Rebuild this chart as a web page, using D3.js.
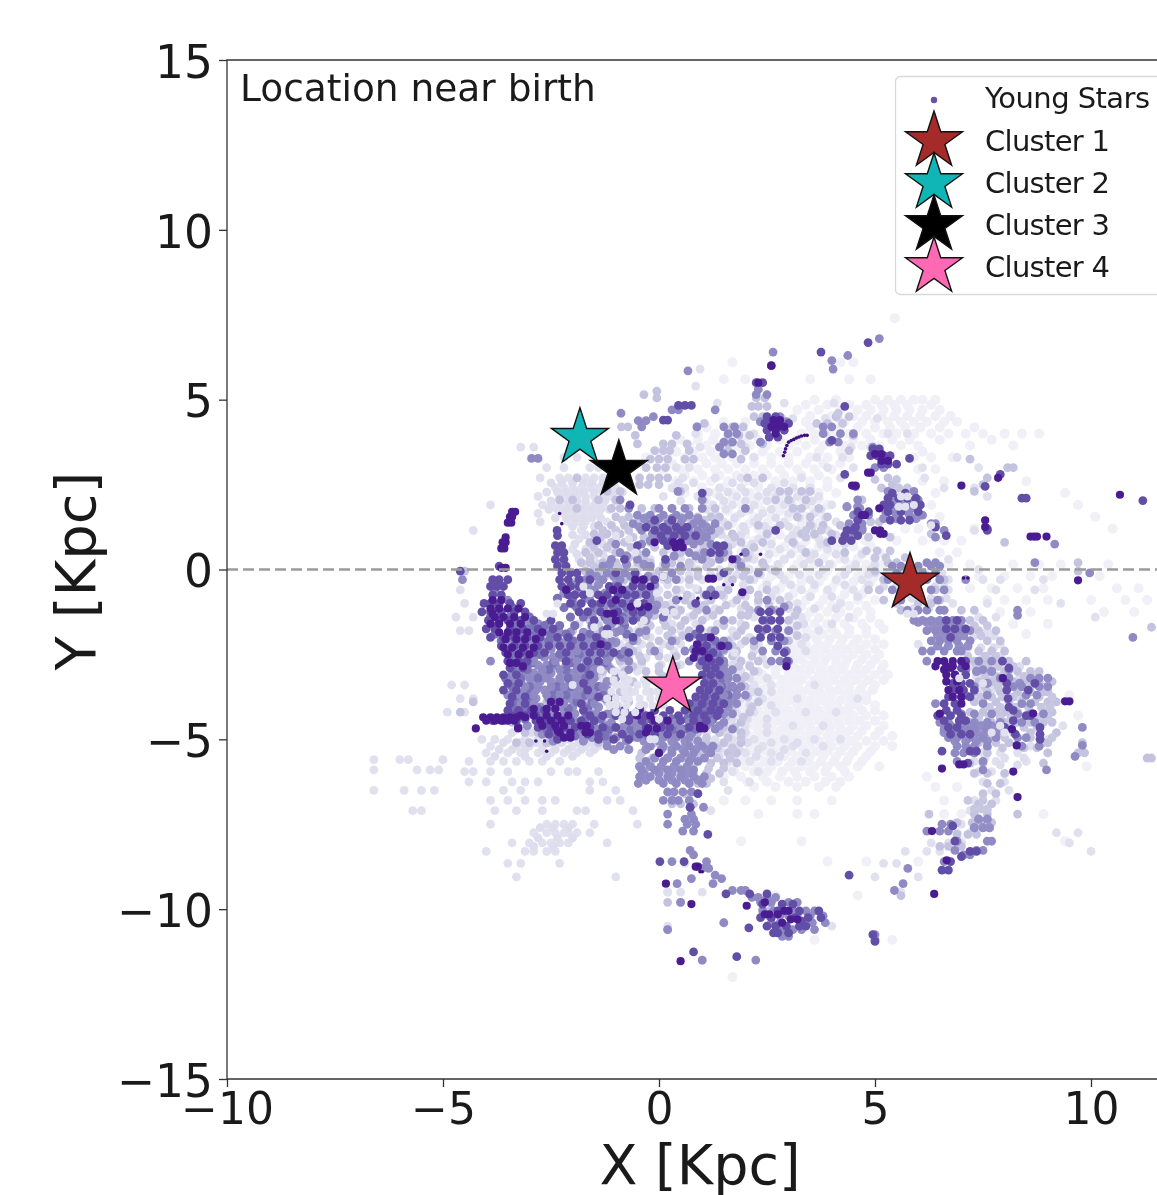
<!DOCTYPE html>
<html>
<head>
<meta charset="utf-8">
<script src="https://cdn.jsdelivr.net/npm/d3@7"></script>
<style>
html, body { margin: 0; padding: 0; background: #fff; }
svg { display: block; filter: blur(0.6px); }
text { font-family: "DejaVu Sans", sans-serif; fill: #1a1a1a; }
</style>
</head>
<body>
<div id="chart"></div>
<script>
// each row is [y, x, x, x ...], in Kpc
var faintStars = [
  [7.4,5.46],[6.1,4.5,4.2,1.7],[5.6,3.5,4.4,4.9,1.5,2.0],
  [5.0,3.6,4.1,5.0,5.3,5.6,5.9,6.1,6.4],
  [4.7,3.2,3.7,4.2,4.6,4.9,5.2,5.5,5.8,6.1,6.5],
  [4.35,1.5,2.0,3.4,3.9,4.3,4.7,5.0,5.3,5.6,5.9,6.2,6.6,6.9],
  [4.0,0.9,1.3,1.7,2.0,3.3,3.6,4.0,4.4,4.8,5.2,5.5,5.9,6.3,6.7,7.1,7.5,8.0,8.4,8.8],
  [3.65,0.3,0.7,1.1,1.4,1.8,2.1,2.5,3.0,3.4,3.8,4.3,4.7,5.1,5.6,6.0,7.2,8.2],
  [3.3,-0.3,0.2,0.6,1.0,1.3,1.7,2.2,2.6,3.0,3.5,3.9,4.4,5.9,6.3,6.8],
  [2.95,0.1,0.5,0.9,1.3,1.6,2.0,2.4,2.8,3.2,3.6,4.0,6.0,6.4],
  [2.6,0.4,0.8,1.2,1.6,2.0,2.3,2.7,3.1,3.5,3.9,6.1,6.6,8.5],
  [2.25,0.6,1.3,1.7,2.1,2.5,2.9,3.3,3.7,4.1,6.4,9.4],
  [1.9,1.5,1.9,2.3,2.7,3.1,3.5,3.9,6.3,9.7],
  [1.55,1.8,2.2,2.6,3.0,3.4,3.8,6.5,10.1],
  [1.2,1.9,2.3,2.7,3.1,3.5,5.7,6.0,7.3,10.5],
  [0.85,1.8,2.2,2.6,3.0,3.4,3.8,4.3,4.8,5.5,6.1,6.6,7.0],
  [0.5,1.9,2.3,2.7,3.1,3.5,3.9,4.3,4.7,5.1,6.5,6.9],
  [0.15,2.0,2.4,2.8,3.2,3.6,4.0,4.4,4.8,5.2,6.7,7.2,8.2,8.8,9.3,10.4],
  [-0.2,2.2,2.6,3.0,3.4,3.8,4.2,4.6,5.0,7.4,8.0,8.6,9.1,10.2],
  [-0.55,2.4,2.8,3.2,3.6,4.0,4.4,4.8,7.2,7.7,8.3,8.9,10.6,11.1],
  [-0.9,2.6,3.0,3.4,3.8,4.2,4.6,5.0,7.6,8.0,8.5,9.0,10.0,10.8,11.3],
  [-1.25,2.8,3.2,3.5,3.9,4.2,4.6,4.9,7.9,8.6,10.3,11.0],
  [-1.6,1.5,3.0,3.3,3.6,3.9,4.3,4.7,5.1,8.2,9.0],
  [-1.9,2.9,3.2,3.5,3.8,4.1,4.4,4.8,8.5],
  [-2.2,2.9,3.2,3.4,3.7,3.9,4.2,4.5,4.8,5.2],
  [-2.5,3.0,3.2,3.5,3.7,4.0,4.2,4.5,4.8,5.1],
  [-2.8,2.9,3.1,3.4,3.6,3.8,4.1,4.3,4.6,4.9,5.2],
  [-3.1,2.4,2.7,3.0,3.2,3.4,3.7,3.9,4.1,4.4,4.7,5.0,5.3],
  [-3.4,2.2,2.5,2.8,3.0,3.2,3.5,3.7,3.9,4.2,4.4,4.7,5.0],
  [-3.7,2.2,2.4,2.7,2.9,3.1,3.3,3.6,3.8,4.0,4.3,4.5,4.8,9.5],
  [-4.0,1.9,2.2,2.5,2.7,2.9,3.2,3.4,3.6,3.9,4.1,4.4,4.6,5.0],
  [-4.3,1.9,2.2,2.4,2.7,2.9,3.1,3.3,3.6,3.8,4.0,4.3,4.5,4.8,5.2,9.7],
  [-4.6,1.6,1.9,2.2,2.4,2.6,2.9,3.1,3.3,3.5,3.8,4.0,4.2,4.5,4.8,5.2],
  [-4.9,1.6,1.9,2.1,2.4,2.7,2.9,3.1,3.4,3.6,3.9,4.1,4.3,4.6,5.0,5.4],
  [-5.2,1.5,1.8,2.1,2.4,2.7,3.0,3.3,3.5,3.8,4.0,4.3,4.6,5.0,5.4],
  [-5.5,1.3,1.7,2.0,2.3,2.6,2.9,3.2,3.5,3.8,4.1,4.4,4.8],
  [-5.8,1.6,2.0,2.3,2.6,3.0,3.3,3.6,3.9,4.2,4.6,5.1,9.9],
  [-6.1,1.5,1.9,2.4,2.8,3.2,3.6,4.0,4.4,6.2],
  [-6.4,2.2,2.7,3.2,3.7,4.1,6.4,6.9],
  [-6.8,1.5,2.0,2.6,3.2,4.0,6.6],
  [-7.2,2.3,3.2,3.6,6.6,7.0,8.9],
  [-8.0,1.9,3.3,7.0,9.4],[-8.6,3.9,4.8,6.0],[-9.6,2.7,4.6],[-10.9,3.6,5.4],[-12.0,1.7]
];
var faintFill = [
  [4.85,3.4,3.9,4.4,4.8,5.15,5.45,5.75,6.3],
  [4.52,3.5,4.0,4.5,4.8,5.15,5.45,5.75,6.05,6.4,6.75],
  [4.18,1.1,1.8,3.5,3.8,4.2,4.6,5.0,5.35,5.7,6.05,6.5,7.3],
  [3.82,0.5,0.9,1.25,1.6,1.95,2.3,2.8,3.2,3.6,4.1,4.5,4.9,5.4,5.8,6.5,7.7],
  [3.47,0.0,0.4,0.8,1.2,1.55,1.95,2.4,2.8,3.2,3.7,4.2,6.1],
  [3.12,0.3,0.7,1.1,1.45,1.8,2.2,2.6,3.0,3.4,3.8,4.2],
  [2.77,0.6,1.0,1.4,1.8,2.2,2.5,2.9,3.3,3.7],
  [2.42,1.0,1.5,1.9,2.3,2.7,3.1,3.5,3.9],
  [2.07,1.1,1.7,2.1,2.5,2.9,3.3,3.7],
  [1.72,1.6,2.0,2.4,2.8,3.2,3.6],
  [1.37,1.7,2.1,2.5,2.9,3.3,3.7],
  [1.02,2.0,2.4,2.8,3.2,3.6,4.0,4.6],
  [0.67,2.1,2.5,2.9,3.3,3.7,4.1,4.5,4.9],
  [0.32,2.1,2.5,2.9,3.3,3.8,4.2,4.6,5.0],
  [-0.02,2.3,2.7,3.1,3.5,3.9,4.3,4.7,5.1],
  [-0.37,2.5,2.9,3.3,3.7,4.1,4.5,4.9],
  [-0.72,2.7,3.1,3.5,3.9,4.3,4.7],
  [-1.07,2.9,3.3,3.7,4.0,4.4,4.8],
  [-1.42,3.1,3.4,3.7,4.1,4.5,4.9],
  [-1.75,3.1,3.4,3.7,4.0,4.4,4.8,5.2],
  [-2.05,3.05,3.35,3.65,3.95,4.25,4.6,5.0],
  [-2.35,3.1,3.35,3.6,3.85,4.1,4.35,4.65,5.0],
  [-2.65,3.1,3.3,3.6,3.85,4.1,4.35,4.7,5.0],
  [-2.95,2.7,3.0,3.25,3.5,3.75,4.0,4.25,4.55,4.8,5.15],
  [-3.25,2.3,2.55,2.85,3.1,3.3,3.6,3.8,4.05,4.3,4.55,4.85,5.2],
  [-3.55,2.35,2.6,2.85,3.0,3.25,3.45,3.7,3.95,4.15,4.4,4.65,4.95],
  [-3.85,2.1,2.35,2.6,2.8,3.05,3.25,3.5,3.75,3.95,4.2,4.45,4.8],
  [-4.15,2.05,2.3,2.55,2.8,3.0,3.25,3.5,3.7,3.95,4.2,4.4,4.7,5.0],
  [-4.45,1.75,2.05,2.3,2.55,2.75,3.0,3.2,3.45,3.7,3.9,4.15,4.4,4.65,5.0],
  [-4.75,1.75,2.0,2.3,2.55,2.8,3.0,3.25,3.5,3.7,3.95,4.2,4.4,4.7,5.1],
  [-5.05,1.7,2.0,2.25,2.55,2.8,3.05,3.25,3.5,3.7,3.95,4.2,4.45,4.8,5.2],
  [-5.35,1.6,1.9,2.2,2.5,2.8,3.05,3.35,3.65,3.9,4.2,4.5,4.9],
  [-5.65,1.9,2.15,2.45,2.75,3.1,3.45,3.75,4.05,4.35,4.7],
  [-5.95,1.75,2.2,2.5,2.85,3.15,3.5,3.85,4.3],
  [-6.25,2.05,2.5,3.0,3.4,3.85,4.2]
];
var paleStars = [
  [5.9,0.95],[5.4,0.85],[4.9,1.35,2.9,4.05],[4.45,2.85,3.1,4.15,3.85,5.05],
  [4.0,0.85,2.2,3.85,5.3,5.75],[3.6,-2.9,-3.2,0.95,2.0,4.45,4.9],
  [3.3,-2.2,-1.9,2.2,3.65,4.25,6.9],[3.0,-2.6,-2.2,-1.6,-1.4,0.4,0.7,3.9,4.5,6.1,7.4],
  [2.7,-2.75,-2.3,-2.1,-1.9,-1.7,-1.5,-1.3,0.55,1.3,1.9,2.4,3.3,4.2,6.15],
  [2.4,-2.4,-2.2,-2.0,-1.8,-1.6,-1.4,-1.2,-1.0,0.3,0.6,1.4,1.9,2.6,3.1,3.5,6.6,7.3],
  [2.15,-2.8,-2.3,-2.1,-1.9,-1.7,-1.5,-1.3,-1.1,0.1,0.9,1.4,1.8,2.3,2.7,3.2,3.7,7.6],
  [1.9,-3.9,-2.7,-2.5,-2.3,-2.1,-1.9,-1.7,-1.5,-1.3,1.25,1.7,2.2,2.9,3.4,4.0],
  [1.65,-2.8,-2.2,-2.0,-1.8,-1.6,-1.4,1.3,1.9,2.4,3.0,3.6],
  [1.4,-2.75,-2.1,-1.9,-1.7,-1.2,1.5,2.2,2.9,3.5,4.1],
  [1.15,-4.3,-1.8,-1.3,2.0,2.6,3.2,3.9,7.3],
  [0.9,-1.85,-1.5,-1.0,0.9,1.6,2.3,3.0,3.7],
  [0.6,-2.0,-1.7,-1.1,0.2,0.9,2.0,2.8,3.3,3.9],
  [0.3,-1.85,-1.5,-1.2,-0.2,0.5,0.9,1.3,2.2,2.9,3.5,4.3,6.7],
  [0,-1.7,-1.4,-0.6,-0.2,0.3,0.9,1.4,2.1,2.6,3.1,3.8,4.4,4.9,7.4],
  [-0.3,-1.6,-1.0,-0.5,0.1,0.5,1.0,1.6,2.2,2.9,3.5,4.1,4.7,6.7,7.5,7.9,8.9],
  [-0.6,-4.6,-0.7,0.0,0.5,1.4,2.1,2.7,3.3,3.9,4.5,6.3,6.7,7.8,8.7],
  [-1.0,-4.5,-0.9,-0.3,0.3,0.9,1.7,2.3,3.2,4.2,6.3,6.8,7.6,9.3],
  [-1.4,-4.7,-4.3,-1.3,-0.8,-0.2,0.2,0.7,1.1,2.2,3.3,4.4,7.4,7.8,10.1],
  [-1.8,-4.6,-4.4,-2.0,-1.6,-1.1,-0.5,0.0,0.5,1.0,1.7,3.1,3.7,7.6],
  [-2.2,-1.9,-1.3,-0.9,-0.4,0.1,0.5,1.9,2.3,3.3,6.0,7.9],
  [-2.6,-1.8,-1.2,-0.7,-0.3,0.2,1.8,2.4,7.5],
  [-3.0,-1.5,-1.0,-0.5,1.9,2.3,7.1],
  [-3.4,-4.8,-4.5,-1.2,-0.7,1.8,2.2,2.6,3.6,6.9],
  [-3.8,-4.6,-4.3,-1.4,-0.8,1.9,2.4,3.2,4.6],
  [-4.2,-4.9,-4.5,1.8,2.2,2.7,3.4,4.1,9.05],
  [-4.6,-1.3,1.6,2.0,2.5,3.1,3.8,9.35],
  [-5.0,-4.1,-3.8,-3.5,-3.1,-2.8,-2.4,-2.1,-1.7,-1.3,-0.9,1.3,1.7,2.2,2.9,3.6,4.2,9.0],
  [-5.2,-3.9,-3.3,-3.0,-2.7,-2.4,-2.0,-1.7,-1.4,1.4,1.8,2.4,3.1,3.8,8.6],
  [-5.4,-4.0,-3.5,-3.2,-2.8,-2.5,-2.2,-1.9,-1.6,1.2,1.6,2.0,2.6,3.4,7.5,7.9,8.3,9.0],
  [-5.65,-4.4,-3.9,-3.6,-3.3,-3.0,-2.7,-2.3,1.6,2.1,2.6,3.3,7.3,7.8,8.5],
  [-5.95,-4.5,-4.3,-3.9,-3.5,-2.5,-2.1,-1.9,-1.4,1.7,2.3,7.4,7.7],
  [-6.25,-4.4,-4.0,-3.4,-3.1,-2.8,-1.6,-1.3,1.5,2.1,7.5,8.0],
  [-6.5,-6.6,-5.9,-5.5,-5.2,-3.6,-3.2,-1.6,-1.0,1.6,7.7,8.1],
  [-5.6,-6.6,-6.0,-5.8,-5.0],[-5.9,-6.6,-5.6,-5.3,-5.1],
  [-6.8,-3.9,-3.5,-3.1,-2.7,-2.4,-1.2,-0.9,7.3,7.8],
  [-7.1,-5.7,-5.5,-3.8,-3.3,-2.7,-1.9,-1.7,-0.6,1.2,7.2,7.6],
  [-7.5,-3.9,-2.6,-2.4,-2.2,-2.0,-1.5,-0.5,7.0,7.3],
  [-7.75,-2.9,-2.6,-2.4,-2.2,-2.1,-1.9,-1.6,6.9,7.2,9.2,9.7],
  [-8.05,-3.4,-3.0,-2.7,-2.5,-2.3,-2.1,-1.2,6.3,6.7,7.0,9.5],
  [-8.3,-4.0,-3.1,-2.9,-2.6,-2.4,5.7,6.2,6.5,10.0],
  [-8.65,-3.5,-3.2,-2.3,0.6,5.2,5.5],[-9.05,-3.3,-1.0,5.0,6.0],[-9.5,0.2,0.2,0.5,5.6,1.0],[-10.5,0.2,4.0]
];
var paleFill = [
  [2.55,-2.5,-2.25,-2.0,-1.75,-1.55,-1.3,-1.05,0.45,0.8,1.7,2.2,2.9],
  [2.28,-2.6,-2.35,-2.15,-1.95,-1.75,-1.5,-1.3,-1.05,-0.85,0.45,1.15,1.6,2.0,2.5,3.0,3.45],
  [2.02,-2.5,-2.3,-2.1,-1.9,-1.7,-1.45,-1.25,-1.0,0.5,1.05,1.5,2.0,2.5,3.05,3.55],
  [1.77,-2.55,-2.35,-2.15,-1.95,-1.75,-1.55,-1.35,-1.15,1.1,1.55,2.1,2.6,3.2,3.75],
  [1.52,-2.4,-2.15,-1.95,-1.75,-1.55,-1.35,1.4,1.75,2.3,2.7,3.25,3.85],
  [1.27,-2.0,-1.75,-1.5,1.55,1.95,2.45,3.0,3.55],
  [1.02,-2.0,-1.7,-1.25,1.45,1.9,2.5,3.1,3.6,4.1],
  [0.75,-1.95,-1.6,-1.3,1.7,2.15,2.6,3.15,3.75,4.3],
  [0.45,-1.9,-1.6,-1.3,1.6,2.1,2.55,3.05,3.6,4.1,4.7],
  [0.15,-1.7,-1.4,0.1,0.75,1.15,1.7,2.4,2.75,3.35,3.95,4.55,5.0],
  [-0.15,-1.45,-0.95,-0.5,-0.1,0.25,0.7,1.2,1.8,2.35,2.8,3.25,3.7,4.3,4.85],
  [-0.45,-1.5,-0.85,-0.25,0.2,0.7,1.55,1.95,2.5,3.05,3.6,4.3,4.85],
  [-0.8,-0.6,-0.1,0.4,0.75,1.1,1.5,2.0,2.6,3.0,3.5,4.0,4.6],
  [-1.15,-1.1,-0.5,0.0,0.4,0.85,1.3,1.9,3.0,3.6,4.1],
  [-1.6,-1.85,-1.4,-1.0,-0.4,0.3,0.85,1.35,1.9,3.35,4.0],
  [-2.0,-2.1,-1.7,-1.3,-0.75,-0.2,0.3,0.75,1.7,2.1,3.4],
  [-2.4,-1.5,-1.0,-0.5,0.0,0.35,1.7,2.2,3.4],
  [-2.8,-1.7,-1.25,-0.85,-0.4,0.05,0.5,1.7,2.1,2.5],
  [-3.2,-1.3,-0.8,-0.3,0.05,1.7,2.1,2.5],
  [-3.6,-1.6,-1.25,-0.65,-0.2,1.8,2.15,2.6],
  [-4.0,-1.5,-0.95,-0.35,0.1,1.75,2.1,2.6],
  [-4.4,-1.6,-1.15,-0.5,0.05,1.7,2.05,2.5],
  [-4.8,-3.4,-2.95,-2.65,-2.3,-2.0,-1.6,-1.1,-0.6,-0.15,0.45,1.1,1.55,2.0,2.5],
  [-5.1,-3.6,-3.2,-2.85,-2.55,-2.25,-1.85,-1.55,-1.2,0.9,1.3,1.6,2.05,2.6,3.2],
  [-5.3,-3.7,-3.4,-3.1,-2.7,-2.4,-2.1,-1.8,-1.5,1.0,1.4,1.85,2.3,2.9],
  [-5.5,-3.8,-3.1,-2.6,-2.0,1.4,1.75,2.25,2.8],
  [-7.6,-2.75,-2.45,-2.1],[-7.9,-2.8,-2.35,-2.0],[-8.15,-2.9,-2.45],
  [-0.1,5.0,5.3,5.55,5.75,6.15,6.55],[-0.5,5.2,5.5,6.4,6.6],[-0.85,5.55,5.85,6.3,6.65],[-1.15,5.9,6.25],
  [-1.95,7.3,7.55,7.75],[-2.3,7.15,7.45,7.75],[-2.55,7.6,7.9],[-2.85,7.2,7.4,7.7,7.95,8.35],[-3.15,7.35,7.65,7.9,8.35],
  [-3.5,7.45,7.75,8.05,8.5],[-3.75,7.4,7.7,8.0,8.3],[-5.55,7.55,8.0,8.45],[-5.75,8.3,7.9]
];
var lightStars = [
  [5.15,-0.35],[5.25,-0.05],[5.05,-0.05,2.25,2.45],[4.8,2.3,2.5,2.15],[4.5,2.2,2.4,4.1,4.4],[4.3,1.05,3.9],
  [4.2,-0.87,-0.72,0.88,1.7,1.95],[3.95,0.4,1.6,1.85,2.1,4.5,-0.55],[3.7,-0.5,0.1,0.3,1.6,1.9,2.4,0.65],
  [3.5,-0.1,0.1,0.25,0.7,1.6,2.0,4.4,5.0],[3.25,-0.2,0.0,0.2,0.6,0.8,1.9,7.2],
  [3.0,-0.3,-0.05,0.15,5.2,8.07,8.2],[2.7,-0.45,-0.2,0.0,0.2,2.05,2.4,5.3,7.6,-1.9],[2.5,-0.45,-0.25,0.0,5.4,7.5],
  [2.3,-1.2,-0.9,0.5,2.8,3.0,3.3,3.5,7.3],[2.05,-2.3,-2.0,-1.4,-1.0,1.0,2.7,3.0,3.4,4.7],
  [1.8,-1.9,-1.1,-0.9,-0.4,-0.1,0.3,0.7,1.0,1.3,3.3,3.7,3.1,6.0],
  [1.55,-1.0,-0.7,-0.3,0.1,0.5,0.9,1.2,1.4,3.2,3.5,3.9,6.0],
  [1.3,-1.4,-1.1,-0.8,-0.5,-0.1,1.0,1.3,1.6,2.3,2.8,3.5,3.8,4.2],
  [1.05,-1.5,-1.2,-0.9,0.9,1.3,1.7,2.5,3.3,3.6,4.0,6.3],
  [0.8,-1.6,-1.1,-0.8,-0.2,1.0,1.9,2.4,3.1,3.9,8.0],
  [0.5,-1.7,-1.4,-1.0,-0.5,0.1,0.5,1.0,1.3,1.6,3.4,4.3],
  [0.2,-1.8,-1.6,-1.3,-1.0,-0.5,-0.2,0.3,0.7,1.2,1.9,2.4,3.7,5.3,5.5,9.7],
  [-0.05,-1.7,-1.4,-1.1,-0.8,0.0,0.5,0.9,1.6,2.0,2.7,5.0,5.9,9.7,-4.5],
  [-0.3,-1.9,-0.8,-0.3,0.2,0.7,1.7,2.1,5.2,6.5,6.6],
  [-0.6,-0.1,0.4,0.9,1.6,2.1,2.5,5.1,6.4],[-0.9,-0.8,0.0,0.6,1.2,1.8,2.3,2.8,5.2,6.5],
  [-1.2,-0.9,-0.1,0.5,0.9,1.4,2.1,2.7,3.2,5.6,6.6,7.0,7.3],[-1.5,-1.6,-1.2,-0.6,0.1,0.6,1.0,1.7,3.0,7.2,7.5],
  [-1.8,-2.0,-1.5,-1.1,-0.7,0.3,0.7,1.2,1.9,3.0,6.9,7.4,7.8],[-2.1,-2.4,-1.9,-1.4,-1.0,-0.5,0.0,0.4,1.6,2.0,3.0,7.2,7.6,7.9],
  [-2.4,-2.1,-1.6,-1.1,-0.6,-0.2,1.5,1.8,2.9,7.4,7.7,8.0],
  [-2.7,-1.9,-1.5,-0.9,-0.4,1.9,2.3,7.3,7.5,7.8,8.1,8.5],[-3.0,-1.8,-1.3,-0.8,-0.3,0.0,1.7,2.2,7.5,7.7,8.0,8.3,8.6,8.8],
  [-3.3,-2.1,-1.6,-1.1,-0.6,1.4,1.9,7.4,7.7,7.9,8.2,8.5,8.8,9.1],
  [-3.6,-2.4,-1.9,-1.4,-0.9,1.6,2.3,7.3,7.6,7.9,8.3,8.6,8.9,9.0],
  [-3.9,-4.3,-2.6,-2.2,-1.7,-1.2,-0.7,1.7,2.3,7.3,7.5,7.8,8.1,8.4,8.7,9.0,9.2],
  [-4.2,-4.6,-2.1,-1.5,-1.0,-0.4,1.7,2.1,7.2,7.5,7.8,8.0,8.3,8.6,8.9,9.1],
  [-4.5,-1.9,-1.3,-0.7,0.2,1.9,7.2,7.4,7.7,8.0,8.3,8.6,8.9,9.1,-3.4],
  [-4.8,-3.1,-2.8,-1.6,-1.2,-0.4,0.1,0.5,0.9,1.4,1.9,7.3,7.6,7.9,8.2,8.6,9.2],
  [-5.1,-3.3,-3.0,-2.6,-1.4,-0.1,0.3,0.7,1.1,1.5,1.9,7.4,7.8,8.1,8.9,9.0,9.8],
  [-5.4,-0.4,0.0,0.3,0.9,1.2,1.6,1.8,7.3,7.6,9.0,9.7,9.85],[-5.7,-0.2,1.2,1.5,1.8,7.2,7.5,8.9],
  [-6.0,0.8,1.1,1.4,7.3,7.6,8.0],[-6.3,0.4,0.7,0.9,1.1,7.6,7.9],[-6.6,0.3,0.6,0.9,7.5,7.8],
  [-6.9,0.3,0.5,0.8,7.4,7.7],[-7.2,6.25,7.3,7.6,8.3],[-7.45,7.25,7.45,7.7,6.9],
  [-7.8,7.15,7.35,6.9],[-8.15,6.5,6.7,7.0],[-9.6,5.6],[-9.8,0.2,0.5],[-10.4,1.5],[-10.6,0.2],[-11.5,1.0],[-5.55,11.4,11.3],[-1.7,11.4],[-10.0,2.4,2.6]
];
var lightFill = [
  [1.45,-0.85,-0.45,-0.05,0.3,0.75,1.05,1.3],[1.15,-1.3,-1.0,-0.7,0.7,1.1,1.4,3.4,3.75],[0.95,-1.35,-0.6,-0.35,1.2,1.75,3.4],[0.65,-1.5,-1.2,-0.65,-0.1,1.05,1.6,2.2],
  [0.35,-1.6,-0.7,-0.35,1.1,1.5,2.05],[0.08,-1.5,-0.95,-0.4,0.15,0.7,1.1,1.85,2.45],[-0.2,-1.25,-0.65,-0.15,0.9,1.4,1.95],
  [-0.75,-0.45,0.2,0.65,1.05,1.45,1.9,2.3],[-1.05,-0.25,0.15,0.75,1.05,1.55,2.0,2.55,3.0],[-1.35,-0.45,-0.1,0.4,0.8,1.25,1.9,2.05,3.15],
  [-1.65,-1.4,-0.85,-0.2,0.15,0.5,1.5,2.0,3.2],[-1.95,-1.6,-1.2,-0.3,0.2,0.55,1.8,3.2],[-2.25,-1.1,-0.7,-0.2,0.25,1.7,2.2],[-2.55,-1.45,-0.95,-0.45,0.0,0.4,1.7,2.15],
  [-2.85,-1.65,-1.15,-0.6,0.0,0.4,1.85,2.1],[-3.15,-1.45,-1.0,0.1,1.6,2.0],[-3.45,-1.75,-1.35,1.6,2.0],[-3.75,-2.1,-1.6,1.7,2.05],[-4.05,-2.45,-2.0,-1.5,1.7,2.15],
  [-4.35,-2.0,-1.45,1.55,1.95],[-4.65,-1.6,-1.05,-0.65,0.35,1.5,1.75],[-4.95,-1.0,-0.6,-0.2,0.25,0.65,1.1,1.6,1.9],[-5.25,-0.3,0.1,0.55,0.95,1.35,1.7],
  [-5.55,-0.45,-0.15,0.2,0.55,1.0,1.35,1.65],[-5.85,-0.3,0.1,0.45,0.8,1.15,1.5],[-6.15,0.25,0.55,0.85,1.2],
  [-1.65,6.6,7.0,7.3,7.6],[-1.95,7.05,7.45],[-2.55,7.15,7.55,7.8],[-2.85,7.35,7.6,7.85,8.2],[-3.15,7.55,7.8,8.1,8.45,8.7],[-3.45,7.55,7.85,8.1,8.35,8.6,8.95],
  [-3.75,7.45,7.7,7.95,8.2,8.45,8.8,9.1],[-4.05,7.65,7.9,8.25,8.55,8.85,9.05],[-4.35,7.4,7.65,7.9,8.15,8.45,8.75,9.0],[-4.65,7.55,7.8,8.1,8.45,8.75],[-4.95,7.4,7.7,8.0,8.6,9.1],
  [-5.25,7.6,7.95,8.45,8.75],[-6.8,7.15,7.5],[-7.05,7.3,7.45,7.6],
  [0.55,4.8,5.05,5.35],[0.35,5.0,5.25,5.7],[-0.6,4.85,5.7],[-1.0,5.5,6.0,6.3],[4.6,4.15],[4.3,4.25,3.65],[2.65,5.0,5.5],[2.4,5.15,5.55,5.75],[1.4,5.1,4.9],[0.95,4.85,5.35]
];
var midStars = [
  [6.8,5.1],[6.3,4.37],[6.15,4.0],[5.9,4.03],[6.4,2.64],[5.85,0.67],[5.15,2.25,2.5],[5.3,2.3],[4.7,0.3,0.45,1.3],
  [4.6,-0.88],[4.5,-0.13,2.8],[4.38,-0.48,-0.3],[4.2,0.88,-0.4,1.5,1.75,3.8,4.0],[4.0,1.6,3.8,4.2,1.8,4.5],[3.75,1.5,1.7,2.35,3.95,4.15],
  [3.27,-2.95,-2.8],[3.6,1.4,4.95],[3.4,1.5,1.7,5.1],[3.0,5.0,5.2],[2.3,0.44,5.3,5.9],[2.05,1.0,-0.9,4.6,6.0],
  [1.8,-0.7,0.0,0.3,0.6,1.0,2.0,4.65,5.6,5.85],[1.6,-0.5,-0.2,0.1,0.4,0.7,4.5,4.85,5.5,5.8,6.1],[1.35,-0.6,-0.2,0.2,0.5,0.8,1.0,1.3,4.4,4.7,6.3,6.4],
  [1.15,-0.4,0.0,0.3,0.6,0.9,1.2,4.5,4.7,6.6],[0.95,0.0,0.25,0.55,0.8,1.1,4.4,6.4],[0.75,-1.0,-0.4,0.5,0.8,1.2,9.16],
  [0.5,-0.9,-0.3,0.7,1.05,1.5,2.0],[0.3,-1.1,-0.5,1.0,1.4,1.8],[0.2,-2.3,8.7,6.2,6.4],[0.1,-1.3,-0.2,0.5,1.9,5.4,5.6,6.0,6.3,6.5],
  [-0.1,-1.6,-1.2,-0.8,0.3,5.5,5.9,6.1,6.4,9.97,2.3],[-0.3,-4.55,-1.7,-1.3,-0.9,-0.5,0.4,5.3,5.5,6.2,6.5,7.1],[-0.6,-3.8,-1.8,-1.5,-1.1,-0.7,-0.3,1.2,5.4,6.3,6.6],
  [-0.9,-3.5,-1.6,-1.1,-0.7,-0.2,0.4,2.5,5.6,6.45],[-1.2,-1.4,-0.6,-0.1,0.3,1.1,2.3,2.6,6.5,6.6,8.3,5.75,6.0,6.2],
  [-1.5,-3.0,-1.2,-0.8,-0.3,1.5,2.5,2.8,5.9,6.1,6.3,6.5,6.8,7.0],[-1.8,-3.1,-1.3,-0.9,-0.3,1.3,2.4,2.7,3.0,6.2,6.4,6.6,6.8,7.0,7.2],
  [-2.1,-3.0,-1.7,-1.1,-0.6,0.3,1.5,2.2,2.6,2.9,6.3,6.5,6.7,6.9,7.2],[-2.4,-1.9,-1.3,-0.8,-0.1,0.6,1.3,2.4,2.7,2.95,6.1,6.3,6.6,6.9,7.0],
  [-2.7,-3.9,-2.9,-2.4,-1.9,-1.6,-1.2,-0.7,0.7,1.3,1.5,2.8,3.0,2.6,6.2,7.0,7.4,7.7],[-2.95,-3.2,-2.7,-2.3,-1.9,-1.5,-1.1,-0.7,1.2,1.5,1.7,7.1,7.5,8.1],
  [-3.2,-3.4,-3.0,-2.6,-2.3,-1.9,-1.5,-1.0,1.3,1.6,1.8,7.9,8.1,8.6,8.8,9.0],[-3.45,-3.1,-2.8,-2.5,-2.2,-1.9,-1.6,-1.3,1.4,1.7,1.9,7.3,8.2,8.4,8.8,9.0],
  [-3.7,-3.5,-3.2,-2.9,-2.6,-2.3,-1.9,-1.6,1.5,1.8,2.0,7.1,7.6,8.5,8.75],[-3.95,-3.2,-2.9,-2.5,-2.2,-1.8,-1.5,1.6,1.8,6.4,7.5,8.4,8.6],
  [-4.25,-1.6,-1.2,-0.9,1.4,1.7,6.5,7.0,7.3,7.7,8.3,8.6,8.9],[-4.5,-1.9,-1.5,-1.1,-0.6,0.4,0.7,1.2,1.5,6.5,6.7,7.0,7.3,7.6,7.9,8.4,8.7],
  [-4.7,-1.4,-0.9,-0.5,0.2,0.5,1.3,1.7,6.6,6.8,7.1,7.3,7.6],[-4.95,-1.55,-1.0,-0.5,-0.2,0.1,0.4,0.7,6.7,6.9,7.2,7.5,7.8,8.3,8.5],
  [-5.2,-1.2,-0.9,-0.2,0.1,0.4,0.7,1.0,1.25,6.9,7.1,7.3,7.6,8.8,8.4],[-5.4,0.0,0.3,0.6,0.8,1.2,7.05,7.3,6.85],[-5.65,-0.3,0.1,0.4,0.7,0.9,7.5,6.9],
  [-5.9,-0.4,-0.1,0.2,0.5,0.8,8.97,7.5],[-6.1,-0.45,-0.2,0.2,0.5,0.8,1.05],[-6.3,-0.48,0.1,0.4,0.7,1.0],
  [-6.55,0.2,0.35,0.55,0.75],[-6.8,0.1,0.3,0.45,0.7],[-7.0,0.72,1.03],[-7.2,0.2,0.75],[-7.35,0.6,0.8],[-7.5,0.2,0.65,0.85,6.55,6.75],
  [-7.7,0.55,0.8,6.5,6.7,6.2],[-8.0,6.9,7.6,7.7],[-8.27,0.72,6.85,7.35,7.5],[-8.4,0.8,7.05,7.2],[-8.6,0.3,1.1,6.6],
  [-8.8,1.15,5.76,1.0],[-9.1,0.75,1.45],[-9.0,1.3],[-9.25,0.42,1.25,5.65],[-9.45,5.45,1.7,1.9,2.0],[-9.65,2.15,2.3,2.5,2.7],[-9.8,0.5,2.35,2.6,3.0,3.2],
  [-10.05,2.4,2.65,2.9,3.1,3.4,3.6],[-10.2,2.55,2.8,3.0,3.2,3.5,3.8],[-10.4,1.5,2.6,2.8,3.3,3.55,3.85],[-10.6,2.85,3.0,3.1,3.3,3.6],[-10.8,2.85,3.0],[-10.6,0.2],
  [-10.75,5.0],[-10.9,5.0],[-11.5,1.0,2.24],[-1.35,8.3],[-2.0,10.97],[-5.5,9.63],[-1.1,2.9],[-4.65,9.8],[-5.18,9.8]
];
var midFill = [
  [1.5,-0.35,0.0,0.3,0.55,0.9],[1.25,-0.45,-0.05,0.35,0.7,1.1],[1.05,-0.15,0.15,0.45,0.7,1.0],[0.85,-0.2,0.2,0.65,0.95],[0.4,-0.75,0.35,0.85],[0.15,-1.15,-0.75,-0.35,0.15],
  [-0.2,-1.45,-1.05,-0.65,-0.25,0.1],[-0.45,-2.0,-1.65,-1.4,-1.0,-0.6,-0.1],[-0.7,-2.2,-1.9,-1.55,-1.25,-0.85,-0.45,-0.15],[-1.05,-1.95,-1.45,-1.25,-0.95,-0.45,-0.05],[-1.35,-1.75,-1.55,-1.1,-0.75,-0.25],
  [-1.6,-3.3,-3.05,-2.8,-2.55,-1.1],[-1.85,-3.25,-2.95,-2.6,-2.3,-2.05,-1.75,-1.0,-0.45],[-2.15,-3.45,-3.2,-2.95,-2.65,-2.4,-2.2,-1.9,-1.6,-1.3,-1.0,1.25],
  [-2.35,-3.5,-3.25,-3.0,-2.75,-2.5,-2.25,-2.0,-1.7,-1.45,-1.15,0.8,1.0,1.2,1.5],[-2.58,-3.4,-3.15,-2.9,-2.65,-2.45,-2.25,-2.0,-1.75,-1.45,-1.15,-0.85,0.9,1.15,1.4],
  [-2.82,-3.3,-3.05,-2.8,-2.6,-2.4,-2.15,-1.9,-1.7,-1.4,-1.2,0.95,1.25,1.5],[-3.05,-3.4,-3.15,-2.9,-2.7,-2.5,-2.25,-2.0,-1.75,-1.5,1.1,1.35,1.6],
  [-3.3,-3.45,-3.2,-2.95,-2.75,-2.5,-2.3,-2.05,-1.8,-1.55,-1.2,1.1,1.35,1.55],[-3.55,-3.35,-3.1,-2.85,-2.65,-2.45,-2.2,-2.0,-1.75,-1.5,-1.2,1.05,1.3,1.55,1.8],
  [-3.8,-3.3,-3.05,-2.85,-2.55,-2.3,-2.05,-1.8,-1.5,-1.25,0.95,1.2,1.45,1.7],[-4.05,-3.3,-3.0,-2.75,-2.5,-2.25,-2.0,-1.7,-1.4,-1.0,0.85,1.1,1.35,1.6],
  [-4.25,-3.2,-2.95,-2.7,-2.45,-2.2,-1.95,-1.7,-1.45,-1.1,0.7,0.95,1.2,1.5],[-4.6,-3.05,-2.65,-2.4,-2.15,-1.85,-1.55,-1.2,-0.8,-0.45,-0.1,0.15,0.85,1.1,1.4],
  [-4.85,-2.7,-2.45,-2.15,-1.85,-1.5,-1.2,-0.75,-0.4,0.05,0.35,0.75],[-5.05,-2.45,-1.75,-1.2,-0.75,-0.35,0.0,0.3,0.6,0.9],[-5.3,-1.05,-0.7,-0.3,0.05,0.3,0.55,0.85,1.1],
  [-5.55,-0.1,0.2,0.5,0.75,1.05],[-5.8,-0.45,-0.2,0.05,0.35,0.65],[-6.0,-0.35,0.0,0.3,0.65],[-6.2,-0.3,0.0,0.3,0.6,0.9],
  [-1.55,6.0,6.2,6.4,6.6],[-1.7,6.35,6.55,6.75,6.95],[-1.95,6.45,6.65,6.85,7.05],[-2.25,6.45,6.7,6.95,7.15],[-4.6,6.75,7.0,7.25,7.45,7.7],[-4.8,6.6,6.85,7.05,7.35,7.55,7.8],
  [-5.05,6.85,7.1,7.35,7.6],[-3.0,7.35,7.7],[-3.35,7.6,8.35],[-7.6,7.3,7.5,7.65],[-7.35,7.4,7.6],
  [4.35,2.35,2.55,2.95],[1.7,5.25,5.45,5.75],[1.5,5.2,5.5,5.95],[2.0,5.45,5.65,5.85],[1.2,4.7],[1.85,4.35,4.6]
];
// darker mid tone that closes the holes inside the big dark blocks
var blockFill = [
  [-0.85,-2.35,-2.0,-1.65,-1.3,-0.7],[-1.12,-3.75,-3.4,-2.2,-1.9,-1.5,-1.05,-0.75,-0.25],[-1.4,-3.9,-3.45,-3.0,-2.05,-1.75,-1.25,-0.85,-0.5,0.1],
  [-1.65,-3.75,-3.35,-2.95,-2.65,-2.3,-1.95,-1.55,-0.8],[-1.9,-3.8,-3.45,-3.15,-2.85,-2.5,-2.15,-1.6,-1.3,-0.75,0.85],[-2.1,-3.65,-3.25,-2.9,-2.55,-2.0,-1.35,1.0,1.3],
  [-2.5,-3.4,-3.05,-2.75,-2.3,-1.85,-1.25,-0.9,1.1,1.35],[-2.75,-3.4,-3.15,-2.95,-2.45,-2.05,-1.55,-1.25,1.1,1.35],[-2.95,-3.35,-3.05,-2.55,-2.15,-1.65,1.2,1.45],
  [-3.2,-3.55,-3.2,-2.8,-2.1,-1.7,1.15,1.45],[-3.45,-3.4,-3.0,-2.35,-2.05,-1.65,-1.4,1.2,1.45,1.7],[-3.7,-3.45,-3.0,-2.45,-2.15,-1.7,-1.3,1.1,1.35,1.6],
  [-3.9,-3.3,-2.95,-2.35,-1.9,-1.55,0.85,1.1,1.4],[-4.1,-3.4,-3.1,-2.8,-2.1,-1.65,0.75,1.05,1.3],[-4.4,-3.1,-2.7,-2.15,-1.7,-1.35,-0.75,-0.3,0.3,0.65,0.95,1.25],
  [-4.7,-2.6,-2.3,-1.75,-1.45,-1.15,-0.65,-0.2,0.35,0.6,0.85],[-4.9,-2.35,-1.95,-1.55,-1.25,-0.6,-0.25]
];
var strongStars = [
  [6.68,4.84],[6.4,3.75],[6.0,2.6],[5.5,2.25,2.4],[4.83,0.6,0.75,0.45],[4.8,4.3],[4.4,0.1,0.2],
  [4.5,2.5,2.7],[4.3,2.45,2.6,2.8,3.0],[4.1,2.5,2.7,2.9],[3.9,2.55,2.75],[3.8,4.0],[3.55,4.95,5.1],[3.35,4.9,5.05,5.2,5.35],[3.27,5.8],[3.1,5.15,5.3,5.5],
  [2.8,4.3,7.9],[2.45,4.55,7.55],[2.25,1.0,5.4,5.7],[2.1,5.3,5.55,5.75,5.95,8.4,8.5],[1.9,-0.67,5.2,5.35,5.9,6.05],[1.7,4.6,4.85,5.3,5.6,6.0],
  [1.45,-0.1,0.3,4.6,5.35,5.6,5.8],[1.25,-0.3,0.1,0.4,0.65,4.55,6.4],[1.15,-2.36,-0.1,0.2,0.5,4.35,4.5,2.7,7.6],[1.0,-2.35,0.05,0.35,0.6,0.85,4.3,4.6,6.65],
  [0.85,4.0,-1.44,0.1,0.3,4.25,4.45],[0.7,-2.4,-2.25,-0.5,0.2,0.45,1.34,1.5],[0.5,-2.35,-2.2,1.2,1.4],[0.3,-2.4,-2.2,-0.8,0.15],[0.1,-2.35,-2.15,-3.7],
  [-0.1,-2.25,-2.05,-1.9,-1.0,-0.55,1.5],[-0.3,-3.85,-3.7,-3.5,-2.3,-2.1,-1.85,-1.6,-0.1,-0.35],[-0.5,-3.9,-3.75,-3.6,-2.25,-2.05,-1.85,-1.15,-0.95,-0.6,-0.4],
  [-0.75,-3.85,-3.65,-2.1,-1.95,-1.75,-1.4,-1.2,-0.95,-0.75,-0.55,-0.3,1.1,1.3],[-1.0,-4.05,-3.9,-3.7,-3.45,-3.2,-2.05,-1.8,-1.55,-1.35,-1.1,-0.85,-0.6,-0.35,0.85],
  [-1.25,-4.1,-3.9,-3.65,-3.35,-3.1,-1.85,-1.65,-1.35,-0.95,-0.6,-0.4,2.35,2.55,2.8],[-1.5,-3.95,-3.7,-3.5,-3.2,-2.9,-2.5,-1.5,-0.9,-0.6,2.4,2.6,2.8,6.65,6.9],
  [-1.75,-4.0,-3.8,-3.45,-3.15,-2.8,-2.45,-1.2,0.95,2.3,2.5,2.75,6.65,6.85,7.1],[-2.0,-3.9,-3.6,-3.35,-3.05,-2.75,-2.35,-2.1,-1.8,-1.45,-0.6,0.7,0.95,1.1,2.35,2.6,2.8,6.75],
  [-2.25,-3.65,-3.35,-3.1,-2.8,-2.55,-2.3,-2.05,-1.75,-1.5,-1.2,0.9,1.1,1.41,1.6,2.75],[-2.45,-3.55,-3.2,-2.9,-2.65,-2.15,-1.6,-1.35,-1.05,-0.7,0.85,1.05,1.25,2.9],
  [-2.7,-3.5,-3.25,-3.05,-2.15,-1.65,-1.4,1.0,1.2,1.4,2.96,7.1,7.95],[-2.9,-3.45,-3.15,-1.8,1.1,1.3,7.0,8.1],
  [-3.1,-3.6,-3.3,-1.6,1.0,1.2,1.4,6.85,7.1],[-3.35,-3.5,-3.25,-1.75,1.05,1.25,6.8,7.0,7.2,8.05,8.7],[-3.55,-3.6,-3.3,-1.65,0.95,1.15,1.4,6.85,7.05,7.3,8.05,8.55],
  [-3.75,-3.4,-3.1,-1.4,-1.1,0.85,1.05,1.3,6.7,7.0,7.2],[-3.95,-3.45,-3.1,-1.8,0.7,1.0,1.25,1.5,6.6,6.85],
  [-4.15,-3.5,-3.25,-2.95,-2.65,-1.75,-0.8,-0.45,-0.1,0.25,0.6,0.9,1.2,1.4,6.65,6.9,8.2],[-4.3,-3.35,-3.1,-2.85,-1.6,-1.3,-1.0,-0.65,-0.3,0.1,0.45,0.8,1.05,1.35,6.75,7.0,8.6,6.45],
  [-4.45,-3.85,-3.6,-3.3,-2.85,-2.6,-2.35,-2.05,-1.8,-1.5,-0.7,-0.4,-0.15,0.1,0.5,0.8,1.1,6.6,6.95,7.1,8.2],[-4.65,-3.26,-2.8,-2.5,-2.2,-1.95,-1.6,-1.3,-1.0,-0.3,0.05,0.25,0.7,1.0,6.7,6.9,8.0,8.82],
  [-4.85,-2.55,-2.3,-2.05,-1.65,-1.4,-0.85,-0.45,-0.1,0.2,0.5,8.25,8.82,6.75,7.0,7.2],[-5.0,-2.35,-1.4,-1.05,-0.7,8.82],[-5.35,7.2,7.35,6.55],
  [-3.8,8.08],[-4.05,8.1],[-4.3,8.5],[-5.7,7.15],[-6.6,0.9],[-7.0,0.72],[-7.8,1.13],[-8.6,0.02,0.58],[-8.45,7.0],[-8.3,7.2,7.35],[-8.6,6.75],[-8.85,6.7,6.55],[-8.0,6.85],[-7.55,6.8],
  [-9.0,4.4],[-9.55,1.55],[-10.55,2.08],[-11.26,0.8],[-11.4,1.8],[-10.75,4.95],[-10.95,5.0],
  [-9.55,2.1,2.5],[-9.85,2.4,2.85,3.1],[-10.05,2.75,3.25,3.7],[-10.25,2.35,2.6,3.15,3.45,3.75],[-10.5,2.5,2.7,2.95,3.25,3.4],[-10.7,2.65,2.75,3.0],[-10.35,3.3],[2.03,11.2],[-0.05,-4.6],[1.2,7.6]
];
var deepStars = [
  [1.7,-3.4,-3.33],[1.55,-3.45,-3.4],[1.38,-3.5,-3.42],[0.95,-3.55],[0.8,-3.62,-3.55],[0.62,-3.65,-3.58],[0.05,-3.65,-3.55],[6.0,2.6],[5.5,2.3],
  [4.4,2.65,2.8],[4.2,2.6,2.75,2.9],[4.0,2.7],[2.85,4.84,4.9],[3.4,5.0,5.15],[3.2,5.15,5.3],[2.47,4.47,4.55,7.0],[2.7,7.85],[2.2,10.67],
  [1.8,5.1],[1.6,4.77,4.7],[1.15,5.0,5.12],[1.05,5.12,5.2],[1.45,7.55],[1.25,7.55],[0.97,8.6,8.68,8.75,8.97],[-0.32,9.7],
  [0.8,-0.1,0.33,0.5],[0.65,0.38,0.55],[0.3,1.7],[-0.27,1.25,1.15],[-0.67,1.93],[-0.6,-1.06,-0.85,-2.15],[-0.3,-0.37,-0.55],[-0.5,-0.2],[-1.1,-0.44,-0.65,-0.25],[-0.9,-1.3,-1.0],[-1.3,-1.2,-1.05,-3.85],[-1.5,-1.0],
  [-0.9,-3.85,-3.65],[-1.15,-3.9,-3.7,-3.5,-3.25],[-1.4,-3.8,-3.6,-3.35,-3.1],[-1.6,-3.9,-3.7,-3.45,-3.2],[-1.85,-3.7,-3.5,-3.3,-3.05,-2.7],[-2.05,-3.55,-3.3,-3.1,-2.85],[-2.3,-3.6,-3.4,-3.15,-2.9],[-2.5,-3.5,-3.25,-3.0],[-2.75,-3.45,-3.3],[-2.2,0.88,-1.35],[-2.4,0.85,1.0],
  [-2.6,0.8,1.15],[-3.9,-2.5,-2.3],[-4.1,-2.9,-2.6,-2.4,-0.45],[-4.3,-3.2,-2.9,-2.6,-2.35,-2.1,-0.5,-0.2],[-4.35,-4.07,-3.9,-3.75,-3.6,-3.45,-3.3,-3.1],[-4.45,-4.0,-3.8,-3.65,-3.5,-3.35,-2.75,-2.5,-2.25,-0.1,0.2],[-4.6,-2.7,-2.4,-2.2,-1.67,-1.8,0.95],[-4.68,-4.24,-3.26,-0.05,-0.25,0.95,1.05],[-4.8,-2.3,-2.05,-1.6,-1.7,-0.3],[-4.95,-2.2,-2.05],[-2.85,-3.15],[-2.25,1.45],[-2.85,2.95,7.1,6.8],
  [-2.9,6.75],[-2.95,6.6],[-3.1,6.65,6.85],[-3.3,6.65,6.9],[-3.55,6.7,6.95],[-3.75,6.8,7.0],[-3.95,7.0],[-3.2,7.96],[-3.88,9.4,9.5],[-4.24,8.66],[-4.7,8.17],[-5.18,8.28],[-5.95,8.2],[-6.7,8.3],[-5.86,6.55],[-5.74,7.05,6.95],[-2.7,6.6,6.8,7.0,6.45],[-2.85,6.4,6.65],[-4.25,6.5],
  [-2.0,1.2],[-7.7,6.32],[-8.56,6.66],[-9.55,6.37],[-8.75,0.9,0.85],[-9.25,0.16],[-9.85,0.75],[-9.9,2.03],[-11.53,0.5],[-10.15,2.55,2.45,2.75],[-10.4,2.85],[-10.3,3.05,3.2],[-10.05,2.9,3.0],[-9.8,2.45],[-4.75,-2.35],[-5.4,-0.0]
];
// thin dark threads, much smaller points
var fineStars = [
  [3.95,3.43,3.37],[3.93,3.3],[3.9,3.24],[3.87,3.18],[3.83,3.12],[3.8,3.06],[3.75,3.0],[3.65,2.96],[3.55,2.93],[3.45,2.91],[3.35,2.88],
  [-5.05,-2.85,-2.65],[-5.35,-2.6],[-0.85,0.5,1.2,0.9],[-0.45,1.5,1.7],[0.45,2.35,1.9],[1.65,-2.3],[1.35,-2.25],[-8.9,0.95,1.0],[-8.7,0.9],[-0.25,7.05,7.15]
];
// pale dots that sit on top of the dark block
var paleTopStars = [
  [-0.5,-1.75],[-1.7,-1.5],[-1.9,-1.25,-1.15],[-1.3,-2.45,-2.6],[-1.0,-2.35],[-1.25,0.15,0.35],[-0.55,0.85],
  [-3.0,-1.05],[-3.1,-0.85],[-3.25,-1.05,-0.7,-0.35,-0.15],[-3.4,-2.0,-1.0,-0.85,-0.5,-0.3],[-3.6,-1.1,-0.8,-0.55,-0.3,-0.05],[-3.8,-1.2,-1.0,-0.7,-0.45,-0.2,0.0],[-4.0,-1.15,-1.0,-0.75,-0.45,-0.15],[-4.2,-1.0,-0.8,-0.55],[-4.4,-0.85,0.0],[-2.95,-1.35],
  [-5.0,-0.2,-0.1],[-3.2,6.95],[-3.35,7.5],[-4.6,7.9],[-4.8,8.0,7.7],[2.15,5.6,5.75],[1.85,5.55,5.7],[1.3,6.3],[-1.3,5.75,5.9],[-1.0,-0.5],[-1.5,-0.35],[-2.45,1.75],[-0.2,0.1],[-0.7,-0.05,-1.6],
  [1.9,5.9],[0.5,-0.55],[0.9,-0.7],[1.0,-1.0]
];
var clusterNames = ["Cluster 1", "Cluster 2", "Cluster 3", "Cluster 4"];
var clusterX = [5.81, -1.83, -0.93, 0.32];
var clusterY = [-0.38, 3.88, 2.94, -3.44];
var clusterColors = ["#a52a2a", "#10b6b6", "#000000", "#ff69b4"];
var xTicks = [-10, -5, 0, 5, 10];
var yTicks = [-15, -10, -5, 0, 5, 10, 15];

var margin = {top: 60, left: 227, bottom: 116},
    width = 1157,
    height = 1195;

var xScale = d3.scaleLinear().domain([-10, 12]).range([margin.left, margin.left + 22 * 43.2]),
    yScale = d3.scaleLinear().domain([-15, 15]).range([height - margin.bottom, margin.top]);

var svg = d3.select("#chart").append("svg")
    .attr("width", width)
    .attr("height", height);

var toPoints = rows => rows.flatMap(r => r.slice(1).map(x => ({x: x, y: r[0]})));

var layers = [
    {rows: faintStars, color: "#f1f0f7", r: 5},
    {rows: faintFill, color: "#f0eff7", r: 5},
    {rows: paleStars, color: "#e1e0ef", r: 4.4},
    {rows: paleFill, color: "#dedded", r: 4.4},
    {rows: lightStars, color: "#c3c3e0", r: 4.4},
    {rows: lightFill, color: "#c8c7e2", r: 4.4},
    {rows: midFill, color: "#938ec6", r: 4.6},
    {rows: blockFill, color: "#7a72b6", r: 4.6},
    {rows: midStars, color: "#8f8ac3", r: 4.4},
    {rows: strongStars, color: "#634ea7", r: 4.4},
    {rows: deepStars, color: "#4a1c92", r: 4.1},
    {rows: fineStars, color: "#3f107f", r: 1.8},
    {rows: paleTopStars, color: "#e2e1f0", r: 4}
];

layers.forEach(l => {
    svg.append("g").selectAll("circle")
        .data(toPoints(l.rows))
        .enter().append("circle")
        .attr("cx", d => xScale(d.x))
        .attr("cy", d => yScale(d.y))
        .attr("r", l.r)
        .attr("fill", l.color);
});

// zero line
svg.append("line")
    .attr("x1", xScale(-10))
    .attr("x2", width)
    .attr("y1", yScale(0))
    .attr("y2", yScale(0))
    .attr("stroke", "#9b9b9b")
    .attr("stroke-width", 2.6)
    .attr("stroke-dasharray", "11,5");

var star = d3.symbol().type(d3.symbolStar).size(1010);

svg.append("g").selectAll("path")
    .data([2, 1, 0, 3])
    .enter().append("path")
    .attr("d", star)
    .attr("transform", i => "translate(" + xScale(clusterX[i]) + "," + yScale(clusterY[i]) + ")")
    .attr("fill", i => clusterColors[i])
    .attr("stroke", "#111")
    .attr("stroke-width", 1.4);

// frame, the right side runs off the picture
svg.append("path")
    .attr("d", "M" + width + "," + yScale(15) + "H" + xScale(-10) + "V" + yScale(-15) + "H" + width)
    .attr("fill", "none")
    .attr("stroke", "#333")
    .attr("stroke-width", 1.3);

var xAxis = d3.axisBottom(xScale).tickValues(xTicks).tickSize(8).tickPadding(6),
    yAxis = d3.axisLeft(yScale).tickValues(yTicks).tickSize(8).tickPadding(6);

svg.append("g")
    .attr("transform", "translate(0," + yScale(-15) + ")")
    .call(xAxis)
    .call(g => g.select(".domain").remove())
    .call(g => g.selectAll("text").attr("font-size", 44).attr("font-family", null));

svg.append("g")
    .attr("transform", "translate(" + xScale(-10) + ",0)")
    .call(yAxis)
    .call(g => g.select(".domain").remove())
    .call(g => g.selectAll("text").attr("font-size", 45.5).attr("dy", "0.38em").attr("font-family", null));

svg.selectAll(".tick line").attr("stroke", "#333").attr("stroke-width", 1.3);
svg.selectAll(".tick text").attr("fill", "#1a1a1a");

svg.append("text")
    .attr("x", 700).attr("y", 1184)
    .attr("text-anchor", "middle")
    .attr("font-size", 55.5)
    .text("X [Kpc]");

svg.append("text")
    .attr("transform", "translate(95,571) rotate(-90)")
    .attr("text-anchor", "middle")
    .attr("font-size", 56)
    .text("Y [Kpc]");

svg.append("text")
    .attr("x", 240).attr("y", 101)
    .attr("font-size", 37.5)
    .text("Location near birth");

// legend
var legend = svg.append("g");
legend.append("rect")
    .attr("x", 895.5).attr("y", 76.5)
    .attr("width", 300).attr("height", 218)
    .attr("rx", 5)
    .attr("fill", "#fff")
    .attr("fill-opacity", 0.85)
    .attr("stroke", "#d9d9d9")
    .attr("stroke-width", 1.3);

legend.append("circle")
    .attr("cx", 934).attr("cy", 100).attr("r", 3.2)
    .attr("fill", "#6a51a3");

legend.append("text")
    .attr("x", 985).attr("y", 108)
    .attr("font-size", 29)
    .attr("textLength", 165)
    .text("Young Stars");

var legendY = d3.scaleBand().domain(clusterNames).range([120, 288]);

legend.selectAll("path")
    .data(clusterNames)
    .enter().append("path")
    .attr("d", star)
    .attr("transform", (d) => "translate(934," + (legendY(d) + 21) + ")")
    .attr("fill", (d, i) => clusterColors[i])
    .attr("stroke", "#111")
    .attr("stroke-width", 1.4);

legend.selectAll(".entry")
    .data(clusterNames)
    .enter().append("text")
    .attr("class", "entry")
    .attr("x", 985)
    .attr("y", (d) => legendY(d) + 31)
    .attr("font-size", 29)
    .attr("textLength", 125)
    .text(d => d);
</script>
</body>
</html>
